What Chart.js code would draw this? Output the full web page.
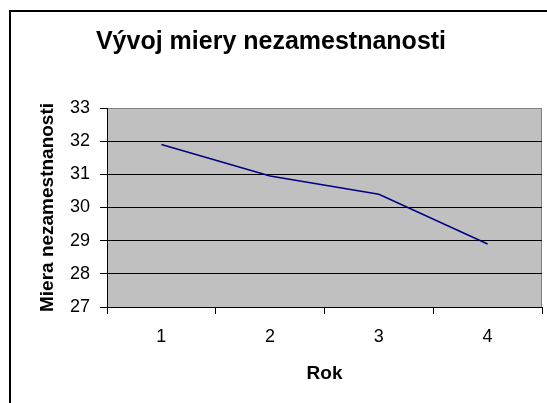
<!DOCTYPE html>
<html>
<head>
<meta charset="utf-8">
<script src="https://cdn.jsdelivr.net/npm/chart.js@4/dist/chart.umd.min.js"></script>
<style>
  html, body { margin: 0; padding: 0; background: #fff; }
  #wrap { width: 547px; height: 403px; }
</style>
</head>
<body>
<div id="wrap"><canvas id="graf"></canvas></div>
<script>
// data z grafu
rokLabels = ['1', '2', '3', '4']
mieraValues = [31.9, 30.95, 30.4, 28.9]
yTicks = [27, 28, 29, 30, 31, 32, 33]

Chart.defaults.font.family = 'Arial, "Liberation Sans", sans-serif'
Chart.defaults.color = '#000'

// ram okolo grafu + sive pozadie plochy
framePlugin = {
  id: 'frame',
  beforeDraw(chart) {
    var c = chart.ctx, a = chart.chartArea
    c.save()
    c.fillStyle = '#fff'
    c.fillRect(0, 0, chart.width, chart.height)
    c.strokeStyle = '#000'
    c.lineWidth = 2
    c.beginPath()
    c.moveTo(10, chart.height + 5)
    c.lineTo(10, 11)
    c.lineTo(chart.width + 5, 11)
    c.stroke()
    c.fillStyle = '#c0c0c0'
    c.fillRect(a.left, a.top, a.right - a.left, a.bottom - a.top)
    c.strokeStyle = '#808080'
    c.lineWidth = 1
    c.beginPath()
    c.moveTo(a.right - 0.5, a.top)
    c.lineTo(a.right - 0.5, a.bottom)
    c.stroke()
    c.restore()
  }
}

chartdata = {
  labels: rokLabels,
  datasets: [{
    label: 'Miera nezamestnanosti',
    borderColor: '#000080',
    backgroundColor: '#000080',
    borderWidth: 1.5,
    pointRadius: 0,
    tension: 0,
    data: mieraValues
  }]
}

config = {
  type: 'line',
  data: chartdata,
  plugins: [framePlugin],
  options: {
    responsive: true,
    maintainAspectRatio: false,
    animation: false,
    layout: { padding: { left: 0, right: 5, top: 0, bottom: 0 } },
    plugins: {
      legend: { display: false },
      tooltip: { enabled: false },
      title: {
        display: true,
        text: 'Vývoj miery nezamestnanosti',
        color: '#000',
        font: { size: 25, weight: 'bold' },
        padding: { top: 27, bottom: 51 }
      }
    },
    scales: {
      x: {
        offset: true,
        grid: { offset: true, drawOnChartArea: false, color: '#000', tickLength: 7 },
        border: { color: '#000', width: 1 },
        ticks: { font: { size: 18 }, padding: 12, maxRotation: 0 },
        title: { display: true, text: 'Rok', font: { size: 19, weight: 'bold' }, padding: { top: 4, bottom: 18 } },
        afterFit: function(scale) { scale.height = 96 }
      },
      y: {
        min: 27,
        max: 33,
        afterBuildTicks: function(scale) { scale.ticks = yTicks.map(v => ({ value: v })) },
        grid: {
          color: ctx => (ctx.tick && ctx.tick.value === 33) ? '#808080' : '#000',
          tickColor: '#000',
          tickLength: 7
        },
        border: { color: '#000', width: 1 },
        ticks: { font: { size: 18 }, padding: 10 },
        title: { display: true, text: 'Miera nezamestnanosti', font: { size: 19, weight: 'bold' }, padding: { top: 36, bottom: 0 } },
        afterFit: function(scale) { scale.width = 107 }
      }
    }
  }
}

var myChart = new Chart(document.getElementById('graf'), config)
</script>
</body>
</html>
